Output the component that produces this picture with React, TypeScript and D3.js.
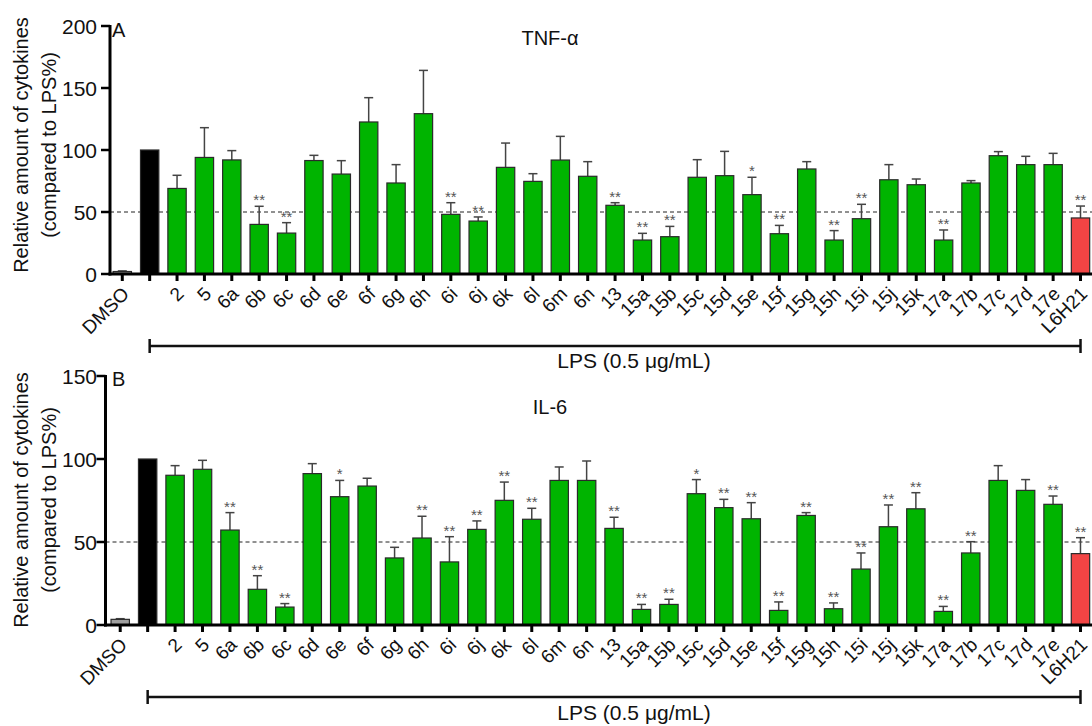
import React from "react";
import * as d3 from "d3";

// ---------- DATA ----------
const categories = [
  "DMSO", "LPS", "2", "5", "6a", "6b", "6c", "6d", "6e", "6f", "6g", "6h", "6i", "6j", "6k", "6l", "6m", "6n",
  "13", "15a", "15b", "15c", "15d", "15e", "15f", "15g", "15h", "15i", "15j", "15k", "17a", "17b", "17c", "17d", "17e", "L6H21",
];
const tickLabels = categories.map((c) => (c === "LPS" ? "" : c));

const tnfMean = [2, 100, 69, 94, 92, 40, 33, 91.5, 80.6, 122.6, 73.4, 129.3, 48.1, 42.7, 86, 74.7, 91.9, 78.8,
  55.4, 27.4, 30.1, 78, 79.3, 64, 32.5, 84.7, 27.4, 44.6, 76, 72, 27.4, 73.4, 95.4, 88.2, 88.2, 45.2];
const tnfErr = [0.5, 0, 10.6, 24, 7.5, 14.6, 8.4, 4.2, 10.8, 19.6, 14.8, 34.9, 9.4, 3.3, 19.6, 6.2, 19.1, 11.8,
  2.1, 5.4, 8.3, 14.2, 19.6, 14, 6.7, 5.9, 7.6, 11.6, 12.2, 4.6, 8.1, 1.9, 3.3, 6.7, 9.1, 9.6];
const tnfSig = ["", "", "", "", "", "**", "**", "", "", "", "", "", "**", "**", "", "", "", "",
  "**", "**", "**", "", "", "*", "**", "", "**", "**", "", "", "**", "", "", "", "", "**"];

const il6Mean = [3.4, 100, 90.2, 93.8, 57.2, 21.5, 10.8, 91.2, 77.3, 83.7, 40.4, 52.4, 38, 57.6, 75.1, 63.7, 87.1, 87.1,
  58.2, 9.4, 12.4, 79.1, 70.7, 64, 8.8, 66, 9.8, 33.7, 59.2, 70, 8.2, 43.4, 87.1, 81.1, 72.7, 43];
const il6Err = [0.4, 0, 5.8, 5.4, 10.5, 8.2, 2.1, 6, 9.8, 4.7, 6.4, 13.1, 15.2, 5.1, 11, 6.6, 8.1, 11.7,
  6.7, 3, 3.1, 8.5, 5, 9.7, 5.1, 1.7, 3.5, 9.7, 13.1, 9.7, 3, 6.8, 8.9, 6.5, 5, 9.6];
const il6Sig = ["", "", "", "", "**", "**", "**", "", "*", "", "", "**", "**", "**", "**", "**", "", "",
  "**", "**", "**", "*", "**", "**", "**", "**", "**", "**", "**", "**", "**", "**", "", "", "**", "**"];

const tnfTicks = [0, 50, 100, 150, 200];
const il6Ticks = [0, 50, 100, 150];

// ---------- STYLE ----------
const FONT = "Arial, 'Liberation Sans', Helvetica, sans-serif";
const GREEN = "#00b400";
const RED = "#f24444";
const BLACK = "#000000";
const GRAY = "#a0a0a0";

function barColor(cat: string) {
  if (cat === "DMSO") return GRAY;
  if (cat === "LPS") return BLACK;
  if (cat === "L6H21") return RED;
  return GREEN;
}

type PanelProps = {
  letter: string;
  title: string;
  yMax: number;
  ticks: number[];
  means: number[];
  errs: number[];
  sigs: string[];
  yTopPx: number;
  yBotPx: number;
  axisX: number;
  bandStart: number;
  bandEnd: number;
  titleY: number;
  letterY: number;
  bracketY: number;
  lpsTextY: number;
  yTitleCenter: number;
};

function Panel(p: PanelProps) {
  const x = d3.scaleBand<string>().domain(categories).range([p.bandStart, p.bandEnd]).paddingInner(0.33).paddingOuter(0.165);
  const y = d3.scaleLinear().domain([0, p.yMax]).range([p.yBotPx, p.yTopPx]);
  const bw = x.bandwidth();
  const cx = (c: string) => (x(c) as number) + bw / 2;
  const rightEdge = 1094;
  const first = cx("LPS");
  const last = cx("L6H21");
  return (
    <g>
      {/* dashed 50% line */}
      <line x1={p.axisX} x2={rightEdge} y1={y(50)} y2={y(50)} stroke="#222" strokeWidth={1} strokeDasharray="4,3" />
      {/* bars */}
      {categories.map((c, i) => {
        const top = y(p.means[i]);
        const errTop = y(p.means[i] + p.errs[i]);
        return (
          <g key={c}>
            {p.errs[i] > 0 && (
              <g stroke="#444" strokeWidth={1.5}>
                <line x1={cx(c)} x2={cx(c)} y1={top} y2={errTop} />
                <line x1={cx(c) - 4.5} x2={cx(c) + 4.5} y1={errTop} y2={errTop} />
              </g>
            )}
            <rect x={x(c)} y={top} width={bw} height={p.yBotPx - top} fill={barColor(c)} stroke="#2a2a2a" strokeWidth={1.2} />
            {p.sigs[i] && (
              <text x={cx(c)} y={errTop - 1} textAnchor="middle" fontSize={15} fill="#555" fontFamily={FONT}>
                {p.sigs[i]}
              </text>
            )}
          </g>
        );
      })}
      {/* y axis */}
      <line x1={p.axisX} x2={p.axisX} y1={p.yTopPx - 1} y2={p.yBotPx + 1.5} stroke="#000" strokeWidth={3} />
      {p.ticks.map((t) => (
        <g key={t}>
          <line x1={p.axisX - 9} x2={p.axisX} y1={y(t)} y2={y(t)} stroke="#000" strokeWidth={2.5} />
          <text x={97} y={y(t)} dy="0.36em" textAnchor="end" fontSize={21} fontFamily={FONT} fill="#111">
            {t}
          </text>
        </g>
      ))}
      {/* x axis */}
      <line x1={p.axisX - 1.5} x2={rightEdge} y1={p.yBotPx} y2={p.yBotPx} stroke="#000" strokeWidth={3} />
      {categories.map((c, i) => (
        <g key={"t" + c}>
          <line x1={cx(c)} x2={cx(c)} y1={p.yBotPx} y2={p.yBotPx + 7} stroke="#000" strokeWidth={3} />
          <text
            transform={`translate(${cx(c) + 8},${p.yBotPx + 21}) rotate(-45)`}
            textAnchor="end"
            fontSize={19}
            fontFamily={FONT}
            fill="#111"
          >
            {tickLabels[i]}
          </text>
        </g>
      ))}
      {/* y title */}
      <text transform={`translate(28,${p.yTitleCenter}) rotate(-90)`} textAnchor="middle" fontSize={20} fontFamily={FONT} fill="#111">
        Relative amount of cytokines
      </text>
      <text transform={`translate(56,${p.yTitleCenter}) rotate(-90)`} textAnchor="middle" fontSize={20} fontFamily={FONT} fill="#111">
        (compared to LPS%)
      </text>
      {/* panel letter & title */}
      <text x={112} y={p.letterY} fontSize={20} fontFamily={FONT} fill="#111">
        {p.letter}
      </text>
      <text x={550} y={p.titleY} textAnchor="middle" fontSize={20} fontFamily={FONT} fill="#111">
        {p.title}
      </text>
      {/* LPS bracket */}
      <g stroke="#111" strokeWidth={2.5}>
        <line x1={first} x2={last} y1={p.bracketY} y2={p.bracketY} />
        <line x1={first} x2={first} y1={p.bracketY - 7} y2={p.bracketY + 7} />
        <line x1={last} x2={last} y1={p.bracketY - 7} y2={p.bracketY + 7} />
      </g>
      <text x={634} y={p.lpsTextY} textAnchor="middle" fontSize={21} fontFamily={FONT} fill="#111">
        LPS (0.5 μg/mL)
      </text>
    </g>
  );
}

export default function App() {
  return (
    <svg width={1092} height={726} style={{ position: "absolute", left: 0, top: 0, background: "#fff" }}>
      <rect width={1092} height={726} fill="#fff" />
      <Panel
        letter="A"
        title="TNF-α"
        yMax={200}
        ticks={tnfTicks}
        means={tnfMean}
        errs={tnfErr}
        sigs={tnfSig}
        yTopPx={26}
        yBotPx={274}
        axisX={110}
        bandStart={108.6}
        bandEnd={1094.2}
        titleY={45}
        letterY={37}
        bracketY={346}
        lpsTextY={368}
        yTitleCenter={145}
      />
      <Panel
        letter="B"
        title="IL-6"
        yMax={150}
        ticks={il6Ticks}
        means={il6Mean}
        errs={il6Err}
        sigs={il6Sig}
        yTopPx={376}
        yBotPx={625}
        axisX={105.5}
        bandStart={106.5}
        bandEnd={1094.2}
        titleY={414}
        letterY={386}
        bracketY={697}
        lpsTextY={720}
        yTitleCenter={500}
      />
    </svg>
  );
}
